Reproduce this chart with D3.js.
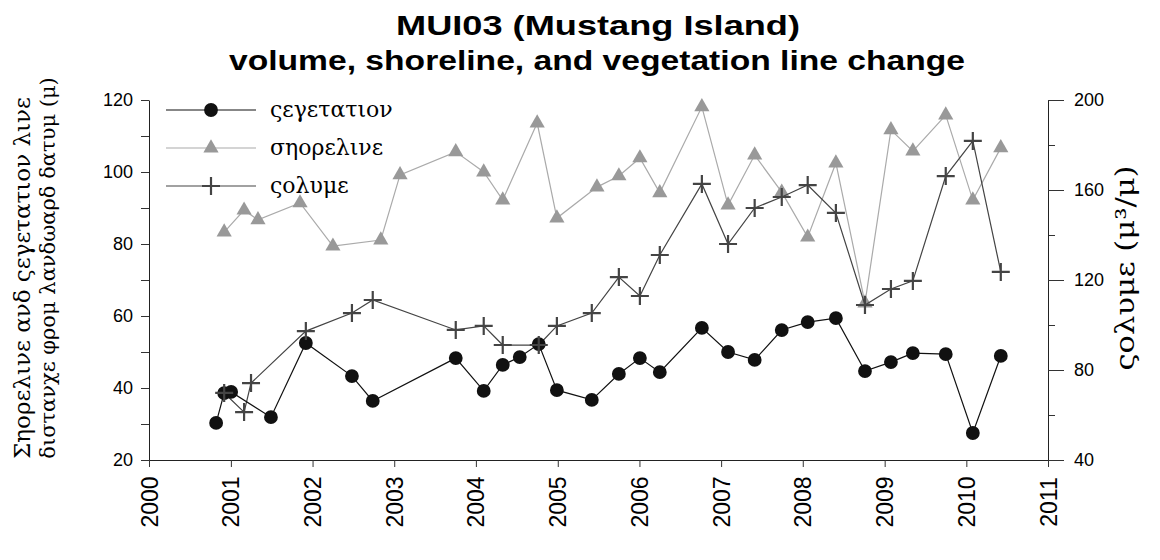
<!DOCTYPE html>
<html>
<head>
<meta charset="utf-8">
<script src="https://cdn.jsdelivr.net/npm/d3@7"></script>
<style>
  body { margin: 0; background: #fff; }
  .title { font-family: "Liberation Sans", Arial, sans-serif; font-weight: bold; font-size: 27px; }
  .tick text { font-family: "Liberation Sans", Arial, sans-serif; font-size: 18px; fill: #000; }
  .greek { font-family: "DejaVu Serif", "Liberation Serif", serif; fill: #000; }
</style>
</head>
<body>
<div id="chart"></div>
<script>
// tick labels
var yearTicks = [2000, 2001, 2002, 2003, 2004, 2005, 2006, 2007, 2008, 2009, 2010, 2011];
var leftTicks = [20, 40, 60, 80, 100, 120];
var rightTicks = [40, 80, 120, 160, 200];

// vegetation line distance (m)
var vegDates = ["2000-10-27", "2000-12-02", "2001-01-02", "2001-06-29", "2001-12-02", "2002-06-26",
    "2002-09-27", "2003-10-03", "2004-02-05", "2004-04-30", "2004-07-15", "2004-10-08", "2004-12-28",
    "2005-06-02", "2005-10-01", "2006-01-03", "2006-04-02", "2006-10-07", "2007-02-01", "2007-05-31",
    "2007-09-29", "2008-01-23", "2008-05-28", "2008-10-05", "2009-01-29", "2009-05-07", "2009-10-01",
    "2010-01-30", "2010-06-04"];
var vegValues = [30.3, 38.6, 38.9, 31.9, 52.5, 43.3, 36.4, 48.3, 39.2, 46.4, 48.6, 52.2, 39.4,
    36.7, 43.9, 48.3, 44.4, 56.7, 50.0, 47.8, 56.1, 58.3, 59.4, 44.7, 47.2, 49.7, 49.4, 27.5, 48.9];

// shoreline distance (m)
var shoreDates = ["2000-12-02", "2001-03-01", "2001-05-02", "2001-11-06", "2002-04-02", "2002-11-02",
    "2003-01-27", "2003-10-03", "2004-02-05", "2004-04-30", "2004-10-01", "2004-12-28", "2005-06-25",
    "2005-10-01", "2006-01-03", "2006-04-02", "2006-10-07", "2007-02-01", "2007-05-31", "2007-09-29",
    "2008-01-23", "2008-05-28", "2008-10-05", "2009-01-29", "2009-05-07", "2009-10-01", "2010-01-30",
    "2010-06-04"];
var shoreValues = [83.3, 89.4, 86.7, 91.4, 79.4, 81.1, 99.2, 105.6, 100.0, 92.2, 113.6, 87.2, 95.8,
    98.9, 103.9, 94.2, 118.1, 90.8, 104.7, 94.4, 81.9, 102.5, 63.6, 111.7, 105.8, 115.8, 92.2, 106.7];

// volume (m3/m)
var volDates = ["2000-12-02", "2001-03-01", "2001-04-01", "2001-12-02", "2002-06-26", "2002-09-27",
    "2003-10-03", "2004-02-05", "2004-04-30", "2004-10-08", "2004-12-28", "2005-06-02", "2005-10-01",
    "2006-01-03", "2006-04-02", "2006-10-07", "2007-02-01", "2007-05-31", "2007-09-29", "2008-01-23",
    "2008-05-28", "2008-10-05", "2009-01-29", "2009-05-07", "2009-10-01", "2010-01-30", "2010-06-04"];
var volValues = [69.8, 61.3, 74.2, 97.3, 105.3, 111.1, 97.8, 99.6, 91.1, 91.1, 99.6, 105.3, 121.3,
    112.9, 131.1, 162.7, 136.0, 152.0, 156.9, 162.2, 149.8, 108.9, 116.0, 119.6, 166.2, 181.8, 123.6];

var legendLabels = ["ςεγετατιον", "σηορελινε", "ςολυμε"];

var width = 1160, height = 560;
var margin = { top: 100, right: 112, bottom: 100, left: 149 };
var parseDate = d3.timeParse("%Y-%m-%d");

function zip(dates, values) {
    return dates.map(function(d, i) { return { date: parseDate(d), value: values[i] }; });
}

var vegData = zip(vegDates, vegValues);
var shoreData = zip(shoreDates, shoreValues);
var volData = zip(volDates, volValues);

var svg = d3.select("#chart").append("svg")
    .attr("width", width)
    .attr("height", height);

var x = d3.scaleTime()
    .domain([new Date(2000, 0, 1), new Date(2011, 0, 1)])
    .range([margin.left, width - margin.right]);
var yL = d3.scaleLinear().domain([20, 120]).range([height - margin.bottom, margin.top]);
var yR = d3.scaleLinear().domain([40, 200]).range([height - margin.bottom, margin.top]);

// titles
svg.append("text").attr("class", "title")
    .attr("x", 598).attr("y", 35).attr("text-anchor", "middle")
    .attr("textLength", 404).attr("lengthAdjust", "spacingAndGlyphs")
    .text("MUI03 (Mustang Island)");
svg.append("text").attr("class", "title")
    .attr("x", 597).attr("y", 70).attr("text-anchor", "middle")
    .attr("textLength", 736).attr("lengthAdjust", "spacingAndGlyphs")
    .text("volume, shoreline, and vegetation line change");

// left axis: minor then major
svg.append("g")
    .attr("transform", "translate(" + margin.left + ",0)")
    .call(d3.axisLeft(yL).tickValues(d3.range(30, 120, 20)).tickSize(8).tickFormat(""))
    .call(function(g) { g.select(".domain").remove(); });
svg.append("g")
    .attr("transform", "translate(" + margin.left + ",0)")
    .call(d3.axisLeft(yL).tickValues(leftTicks).tickSizeInner(8).tickSizeOuter(0).tickPadding(8));

// right axis
svg.append("g")
    .attr("transform", "translate(" + (width - margin.right) + ",0)")
    .call(d3.axisRight(yR).tickValues(d3.range(60, 200, 40)).tickSize(7).tickFormat(""))
    .call(function(g) { g.select(".domain").remove(); });
svg.append("g")
    .attr("transform", "translate(" + (width - margin.right) + ",0)")
    .call(d3.axisRight(yR).tickValues(rightTicks).tickSizeInner(16).tickSizeOuter(0).tickPadding(10));

// bottom axis
var xAxis = svg.append("g")
    .attr("transform", "translate(0," + (height - margin.bottom) + ")")
    .call(d3.axisBottom(x)
        .tickValues(yearTicks.map(function(y) { return new Date(y, 0, 1); }))
        .tickFormat(d3.timeFormat("%Y"))
        .tickSizeInner(7).tickSizeOuter(0));
xAxis.selectAll(".tick text")
    .attr("transform", "rotate(-90)")
    .attr("x", -42).attr("y", 0).attr("dy", "0.35em")
    .attr("text-anchor", "middle")
    .style("font-size", "23px");

svg.selectAll(".domain").attr("stroke", "#222");
svg.selectAll(".tick line").attr("stroke", "#333");

// axis titles
svg.append("text").attr("class", "greek")
    .attr("transform", "translate(30,278) rotate(-90)")
    .attr("text-anchor", "middle")
    .style("font-size", "23px")
    .text("Σηορελινε ανδ ςεγετατιον λινε");
svg.append("text").attr("class", "greek")
    .attr("transform", "translate(55,268) rotate(-90)")
    .attr("text-anchor", "middle")
    .style("font-size", "21px")
    .text("διστανχε φρομ λανδωαρδ δατυμ (μ)");

svg.append("text").attr("class", "greek")
    .attr("transform", "translate(1134,268) rotate(-90)")
    .attr("text-anchor", "middle")
    .style("font-size", "26px")
    .attr("textLength", 205).attr("lengthAdjust", "spacingAndGlyphs")
    .text("ςολυμε (μ³/μ)");

// series
var lineL = d3.line().x(function(d) { return x(d.date); }).y(function(d) { return yL(d.value); });
var lineR = d3.line().x(function(d) { return x(d.date); }).y(function(d) { return yR(d.value); });

var triangle = d3.symbol().type(d3.symbolTriangle).size(100);
var circle = d3.symbol().type(d3.symbolCircle).size(150);
var plus = "M-9,0H9M0,-9V9";

svg.append("path").datum(shoreData)
    .attr("fill", "none").attr("stroke", "#aaa").attr("stroke-width", 1.2)
    .attr("d", lineL);
svg.append("g").selectAll("path").data(shoreData).join("path")
    .attr("transform", function(d) { return "translate(" + x(d.date) + "," + yL(d.value) + ")"; })
    .attr("d", triangle).attr("fill", "#999");

svg.append("path").datum(volData)
    .attr("fill", "none").attr("stroke", "#444").attr("stroke-width", 1.2)
    .attr("d", lineR);

svg.append("path").datum(vegData)
    .attr("fill", "none").attr("stroke", "#111").attr("stroke-width", 1.2)
    .attr("d", lineL);
svg.append("g").selectAll("path").data(vegData).join("path")
    .attr("transform", function(d) { return "translate(" + x(d.date) + "," + yL(d.value) + ")"; })
    .attr("d", circle).attr("fill", "#111");

svg.append("g").selectAll("path").data(volData).join("path")
    .attr("transform", function(d) { return "translate(" + x(d.date) + "," + yR(d.value) + ")"; })
    .attr("d", plus).attr("stroke", "#444").attr("stroke-width", 2.2).attr("fill", "none");

// legend
var legendRows = [
    { y: 110, stroke: "#111", fill: "#111", sym: circle, label: legendLabels[0] },
    { y: 148, stroke: "#aaa", fill: "#999", sym: triangle, label: legendLabels[1] },
    { y: 186, stroke: "#444", fill: "none", sym: null, label: legendLabels[2] }
];
var lg = svg.append("g");
legendRows.forEach(function(r) {
    lg.append("line").attr("x1", 166).attr("x2", 256).attr("y1", r.y).attr("y2", r.y)
        .attr("stroke", r.stroke).attr("stroke-width", 1.2);
    lg.append("path").attr("transform", "translate(211," + r.y + ")")
        .attr("d", r.sym ? r.sym : plus)
        .attr("fill", r.fill)
        .attr("stroke", r.sym ? "none" : r.stroke)
        .attr("stroke-width", 2.2);
    lg.append("text").attr("class", "greek")
        .attr("x", 270).attr("y", r.y + 7)
        .style("font-size", "22px")
        .text(r.label);
});
</script>
</body>
</html>
